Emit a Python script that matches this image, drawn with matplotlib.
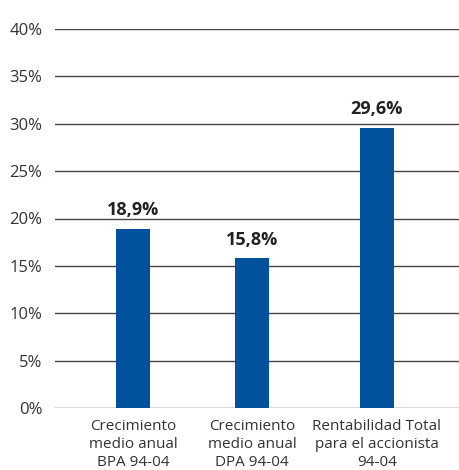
import matplotlib
matplotlib.use("Agg")
import matplotlib.pyplot as plt

categories = ["Crecimiento\nmedio anual\nBPA 94-04",
              "Crecimiento\nmedio anual\nDPA 94-04",
              "Rentabilidad Total\npara el accionista\n94-04"]
values = [18.9, 15.8, 29.6]
value_labels = ["18,9%", "15,8%", "29,6%"]
yticks = [0, 5, 10, 15, 20, 25, 30, 35, 40]
ytick_labels = ["0%", "5%", "10%", "15%", "20%", "25%", "30%", "35%", "40%"]

plt.rcParams['font.family'] = ['Open Sans', 'DejaVu Sans']

fig = plt.figure(figsize=(4.59, 4.70), dpi=100)
ax = fig.add_axes([55/459, 62/470, 404/459, 379/470])

positions = [0, 1, 2.05]
bar_color = "#02519c"
ax.bar(positions, values, width=0.286, color=bar_color, zorder=3)

for x, v, lab in zip(positions, values, value_labels):
    ax.annotate(lab, (x, v), xytext=(0, 7), textcoords="offset points",
                ha="center", va="bottom", fontsize=13, fontweight="bold",
                color="#222222")

ax.set_xlim(-0.655, 2.74)
ax.set_ylim(0, 40)
ax.set_yticks(yticks)
ax.set_yticklabels(ytick_labels, fontsize=12, color="#333333")
ax.set_xticks(positions)
ax.set_xticklabels(categories, fontsize=11, color="#333333", linespacing=1.25)
ax.tick_params(axis="y", length=0, pad=9)
ax.tick_params(axis="x", length=0, pad=8)

ax.yaxis.grid(True, color="#444444", linewidth=1.0, zorder=0)
ax.set_axisbelow(True)
for s in ax.spines.values():
    s.set_visible(False)

fig.savefig("out.png", dpi=100)
